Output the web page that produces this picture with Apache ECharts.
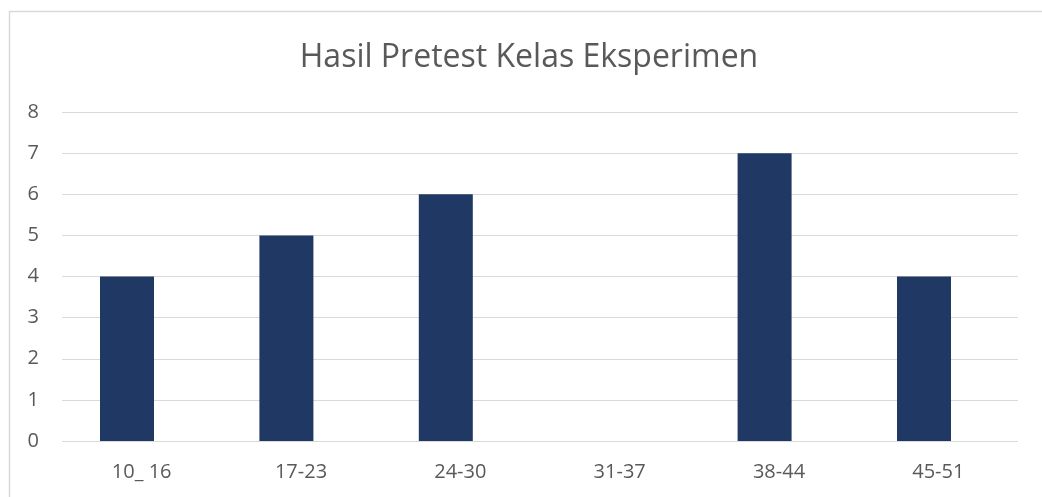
<!DOCTYPE html>
<html><head><meta charset="utf-8">
<script src="https://cdn.jsdelivr.net/npm/echarts@6/dist/echarts.min.js"></script>
<style>html,body{margin:0;padding:0;background:#fff}#c{width:1042px;height:497px}</style>
</head><body><div id="c"></div>
<script>
const categories = ['10_ 16', '17-23', '24-30', '31-37', '38-44', '45-51'];
const values = [4, 5, 6, 0, 7, 4];
const yTicks = [0, 1, 2, 3, 4, 5, 6, 7, 8];
const titleText = 'Hasil Pretest Kelas Eksperimen';

const chart = echarts.init(document.getElementById('c'));
const font = '"Open Sans", sans-serif';
chart.setOption({
  animation: false,
  title: { text: titleText, left: 524, textAlign: 'center', top: 37,
    textStyle: { fontFamily: font, fontSize: 32, fontWeight: 'normal', color: '#595959' } },
  graphic: [{ type: 'rect', shape: { x: 9.5, y: 11.5, width: 1100, height: 600 },
    style: { fill: 'none', stroke: '#d9d9d9', lineWidth: 1.5 }, silent: true, z: -1 }],
  grid: [
    { left: 62, right: 24, top: 112, bottom: 56 },
    { left: 47.3, width: 956.4, top: 112, bottom: 56 }
  ],
  xAxis: [
    { type: 'category', gridIndex: 0, data: categories,
      axisLine: { show: false }, axisTick: { show: false },
      axisLabel: { margin: 21, fontFamily: font, fontSize: 20, color: '#595959' } },
    { type: 'category', gridIndex: 1, data: categories, show: false }
  ],
  yAxis: [
    { type: 'value', gridIndex: 0, min: yTicks[0], max: yTicks[yTicks.length - 1], interval: 1,
      axisLine: { show: false }, axisTick: { show: false },
      axisLabel: { margin: 23, fontFamily: font, fontSize: 20, color: '#595959' },
      splitLine: { lineStyle: { color: '#d9d9d9', width: 1 } } },
    { type: 'value', gridIndex: 1, min: yTicks[0], max: yTicks[yTicks.length - 1], interval: 1, show: false,
      splitLine: { show: false } }
  ],
  series: [{ type: 'bar', xAxisIndex: 1, yAxisIndex: 1, data: values, barWidth: 54,
    itemStyle: { color: '#203864' } }]
});
</script></body></html>
